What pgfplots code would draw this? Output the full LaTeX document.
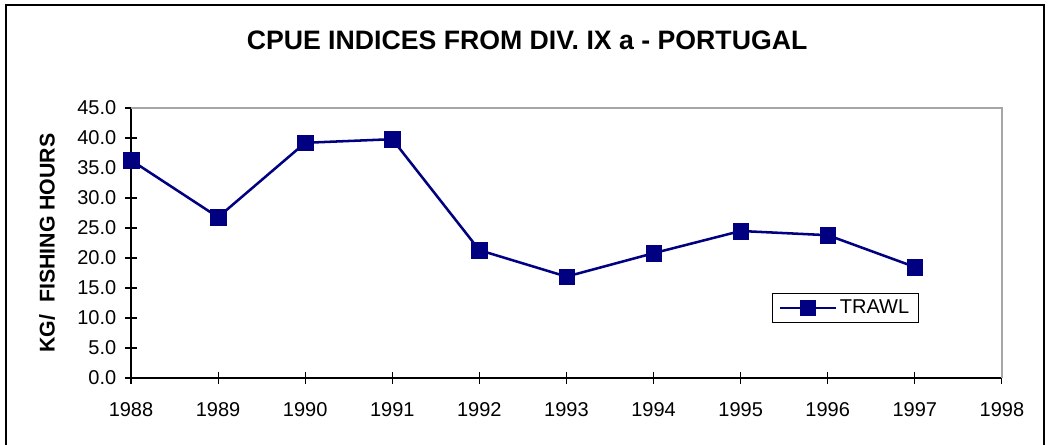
\documentclass[border=0pt]{standalone}
\usepackage{pgfplots}
\pgfplotsset{compat=1.18}
\usepackage{fontspec}
\setmainfont{Liberation Sans}
\definecolor{navy}{HTML}{000080}
\begin{document}
\begin{tikzpicture}[x=0.75pt,y=0.75pt]
\useasboundingbox (-131,-67) rectangle (921,378);
% outer frame (left, top, right; bottom cut off)
\draw[line width=1.9pt,black] (-125,-70) -- (-125,373) -- (913,373) -- (913,-70);
\begin{axis}[
  at={(0,0)}, anchor=origin,
  scale only axis,
  width=653.25pt, height=202.5pt,
  xmin=1988, xmax=1998, ymin=0, ymax=45,
  xtick={1988,...,1998},
  ytick={0,5,...,45},
  xticklabel style={/pgf/number format/1000 sep={}},
  yticklabel style={/pgf/number format/.cd,fixed,fixed zerofill,precision=1},
  /pgf/number format/assume math mode=true,
  tick label style={font=\fontsize{15}{16}\selectfont},
  tick align=center,
  major tick length=9pt,
  tick style={black, line width=0.8pt},
  axis x line*=bottom, axis y line*=left,
  axis line style={black, line width=1.4pt, -},
  xticklabel shift=10pt,
  yticklabel shift=3pt,
  ylabel={\bfseries KG/\ \ FISHING HOURS},
  ylabel style={font=\fontsize{16}{18}\selectfont, at={(axis description cs:0,0.5)}, anchor=center, rotate=0, yshift=63pt},
  title={\bfseries CPUE INDICES FROM DIV. IX a - PORTUGAL},
  title style={font=\fontsize{20}{22}\selectfont, at={(axis description cs:0.4547,1)}, anchor=base, yshift=38pt},
  legend style={at={(axis cs:1996.2,11.7)}, anchor=center, draw=black, line width=0.6pt,
    font=\fontsize{15}{16}\selectfont, inner xsep=5pt, inner ysep=3pt},
  legend image code/.code={%
    \draw[#1, mark=none] (0pt,0pt) -- (42pt,0pt);
    \draw[#1] plot coordinates {(21pt,0pt)};},
  legend cell align=left,
  clip=false,
]
\draw[gray!70, line width=1.4pt] (axis cs:1988,45) -- (axis cs:1998,45) -- (axis cs:1998,0);
\addplot[navy, line width=1.9pt, mark=square*, mark size=5.8pt, mark options={fill=navy, draw=navy, line width=0.3pt}]
  coordinates {
  (1988,36.3) (1989,26.8) (1990,39.2) (1991,39.8) (1992,21.3)
  (1993,16.9) (1994,20.8) (1995,24.5) (1996,23.8) (1997,18.5)
  };
\addlegendentry{TRAWL}
\end{axis}
\end{tikzpicture}
\end{document}
